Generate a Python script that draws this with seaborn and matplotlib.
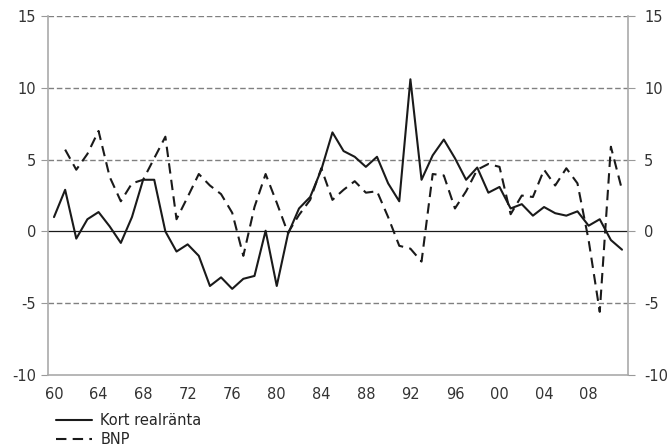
import pandas as pd
import numpy as np
import seaborn as sns
import matplotlib.pyplot as plt
from matplotlib.ticker import FixedLocator, FuncFormatter

years = list(range(1960, 2012))

kort_realranta = [1.0, 2.9, -0.5, 0.85, 1.35, 0.35, -0.8, 1.0, 3.6, 3.6,
                  0.0, -1.4, -0.9, -1.7, -3.8, -3.2, -4.0, -3.3, -3.1, 0.05,
                  -3.8, -0.2, 1.6, 2.4, 4.3, 6.9, 5.6, 5.2, 4.5, 5.2,
                  3.35, 2.1, 10.6, 3.6, 5.3, 6.4, 5.1, 3.6, 4.45, 2.7,
                  3.1, 1.6, 1.9, 1.1, 1.7, 1.27, 1.1, 1.4, 0.4, 0.85,
                  -0.6, -1.27]

bnp = [np.nan, 5.7, 4.3, 5.4, 7.0, 3.8, 2.1, 3.35, 3.6, 5.1,
       6.6, 0.85, 2.4, 4.0, 3.2, 2.6, 1.3, -1.7, 1.7, 4.0,
       2.0, -0.1, 1.15, 2.2, 4.4, 2.2, 2.9, 3.5, 2.7, 2.8,
       1.0, -1.0, -1.2, -2.1, 4.0, 3.9, 1.6, 2.8, 4.3, 4.7,
       4.5, 1.2, 2.5, 2.4, 4.3, 3.2, 4.4, 3.35, -0.6, -5.6,
       5.9, 2.9]

y_ticks = [-10, -5, 0, 5, 10, 15]

df = pd.DataFrame({'Year': years, 'Kort realränta': kort_realranta, 'BNP': bnp})

sns.set_style("white")
plt.rcParams['font.family'] = ['DejaVu Sans']
plt.rcParams['axes.unicode_minus'] = False

fig = plt.figure(figsize=(6.68, 4.48), dpi=100)
ax = fig.add_axes([0.0725, 0.163, 0.867, 0.801])

sns.lineplot(data=df, x='Year', y='Kort realränta', ax=ax, color='#1a1a1a',
             lw=1.5, label='Kort realränta')
sns.lineplot(data=df, x='Year', y='BNP', ax=ax, color='#1a1a1a',
             lw=1.5, linestyle=(0, (5, 3)), label='BNP')

ax.set_xlim(1959.5, 2011.5)
ax.set_ylim(-10, 15)
ax.set_yticks(y_ticks)
ax.set_xlabel('')
ax.set_ylabel('')

ax.xaxis.set_major_locator(FixedLocator(list(range(1960, 2012, 4))))
ax.xaxis.set_major_formatter(FuncFormatter(lambda v, p: '%02d' % (int(v) % 100)))
ax.xaxis.set_minor_locator(FixedLocator([y + 0.5 for y in range(1959, 2012)]))
ax.tick_params(axis='x', which='major', length=0, labelsize=10.5, pad=9, colors='#333333')
ax.tick_params(axis='x', which='minor', length=5, width=0.8, color='#999999', direction='out')
ax.tick_params(axis='y', length=5, width=0.8, color='#999999', labelsize=10.5,
               labelcolor='#333333', left=True, pad=4)

for v in [-5, 5, 10, 15]:
    ax.axhline(v, color='#808080', lw=1.0, linestyle=(0, (4, 2)), zorder=0)
ax.axhline(0, color='#1a1a1a', lw=0.9, zorder=1)

ax.spines['top'].set_visible(False)
for s in ['left', 'right', 'bottom']:
    ax.spines[s].set_color('#aaaaaa')
    ax.spines[s].set_linewidth(1.2)

ax2 = ax.twinx()
ax2.set_ylim(-10, 15)
ax2.set_yticks(y_ticks)
ax2.tick_params(axis='y', length=5, width=0.8, color='#999999', labelsize=10.5,
                labelcolor='#333333', pad=7)
for s in ax2.spines.values():
    s.set_visible(False)

handles, labels = ax.get_legend_handles_labels()
ax.get_legend().remove()
fig.legend(handles, labels, loc='upper left', bbox_to_anchor=(0.0838, 0.078),
           frameon=False, fontsize=10.5, handlelength=2.5, handletextpad=0.55,
           labelspacing=0.3, borderaxespad=0, borderpad=0)

fig.savefig('out.png', dpi=100)
